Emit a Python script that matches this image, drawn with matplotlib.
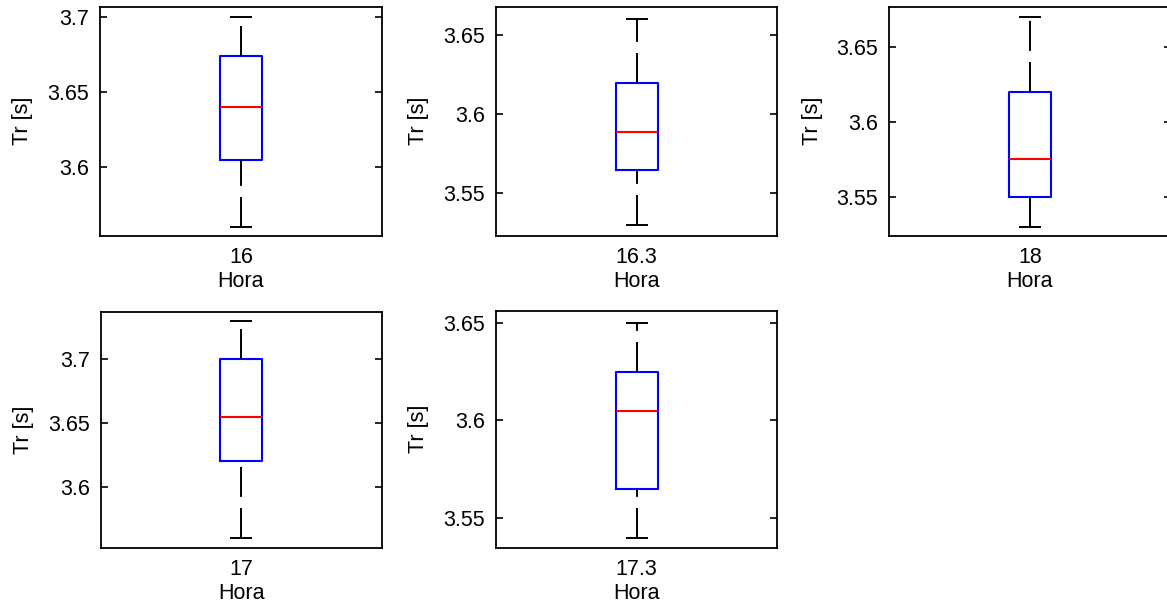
import matplotlib
matplotlib.use("Agg")
import matplotlib.pyplot as plt
from matplotlib.ticker import FuncFormatter

plt.rcParams['font.family'] = ['Liberation Sans', 'DejaVu Sans']
plt.rcParams['lines.scale_dashes'] = False

# Hour of each panel and the five-number summary of Tr per hour
hours = ['16', '16.3', '18', '17', '17.3']
whisker_low = [3.56, 3.53, 3.53, 3.56, 3.54]
q1 = [3.605, 3.565, 3.55, 3.62, 3.565]
medians = [3.64, 3.589, 3.575, 3.655, 3.605]
q3 = [3.674, 3.62, 3.62, 3.70, 3.625]
whisker_high = [3.70, 3.66, 3.67, 3.73, 3.65]

# y-axis ranges and tick values per panel
y_limits = [(3.5545, 3.7071), (3.5232, 3.6679), (3.5239, 3.6772),
            (3.5516, 3.7369), (3.5350, 3.6561)]
y_ticks = [[3.6, 3.65, 3.7], [3.55, 3.6, 3.65], [3.55, 3.6, 3.65],
           [3.6, 3.65, 3.7], [3.55, 3.6, 3.65]]

W, H = 1167, 606
fig = plt.figure(figsize=(W / 100, H / 100), dpi=100)

# panel rectangles in pixels: left, top, right, bottom
panel_px = [(100, 6.7, 381.7, 235.7), (496, 6.7, 777.3, 235.7),
            (889.3, 6.7, 1170.5, 235.7), (101, 312.3, 381.7, 548.3),
            (496, 310.7, 777.3, 547.7)]

fmt = FuncFormatter(lambda v, p: f'{v:g}')

for i, (l, t, r, b) in enumerate(panel_px):
    ax = fig.add_axes([l / W, (H - b) / H, (r - l) / W, (b - t) / H])
    stats = [dict(med=medians[i], q1=q1[i], q3=q3[i],
                  whislo=whisker_low[i], whishi=whisker_high[i], fliers=[])]
    art = ax.bxp(stats, positions=[1], widths=0.15, showfliers=False,
                 boxprops=dict(color='#0000ff', linewidth=1.5),
                 medianprops=dict(color='#ff0000', linewidth=1.5),
                 whiskerprops=dict(color='black', linewidth=1.4,
                                   linestyle=(0, (21.6, 8.0))),
                 capprops=dict(color='black', linewidth=1.4),
                 capwidths=0.072)
    # dash pattern of the lower whisker starts at its cap
    lw_line = art['whiskers'][0]
    lw_line.set_ydata(list(lw_line.get_ydata())[::-1])

    ax.set_xlim(0.5, 1.5)
    ax.set_ylim(*y_limits[i])
    ax.set_yticks(y_ticks[i])
    ax.yaxis.set_major_formatter(fmt)
    ax.set_xticks([1])
    ax.set_xticklabels([hours[i]])
    ax.tick_params(axis='y', direction='in', length=5, width=1.2,
                   right=True, labelsize=15.5, pad=8)
    ax.tick_params(axis='x', length=0, labelsize=15.5, pad=8)
    ax.set_xlabel('Hora', fontsize=15.5, labelpad=2)
    ax.set_ylabel('Tr [s]', fontsize=15.5, labelpad=10)
    for s in ax.spines.values():
        s.set_linewidth(1.3)

fig.savefig('out.png', dpi=100)
